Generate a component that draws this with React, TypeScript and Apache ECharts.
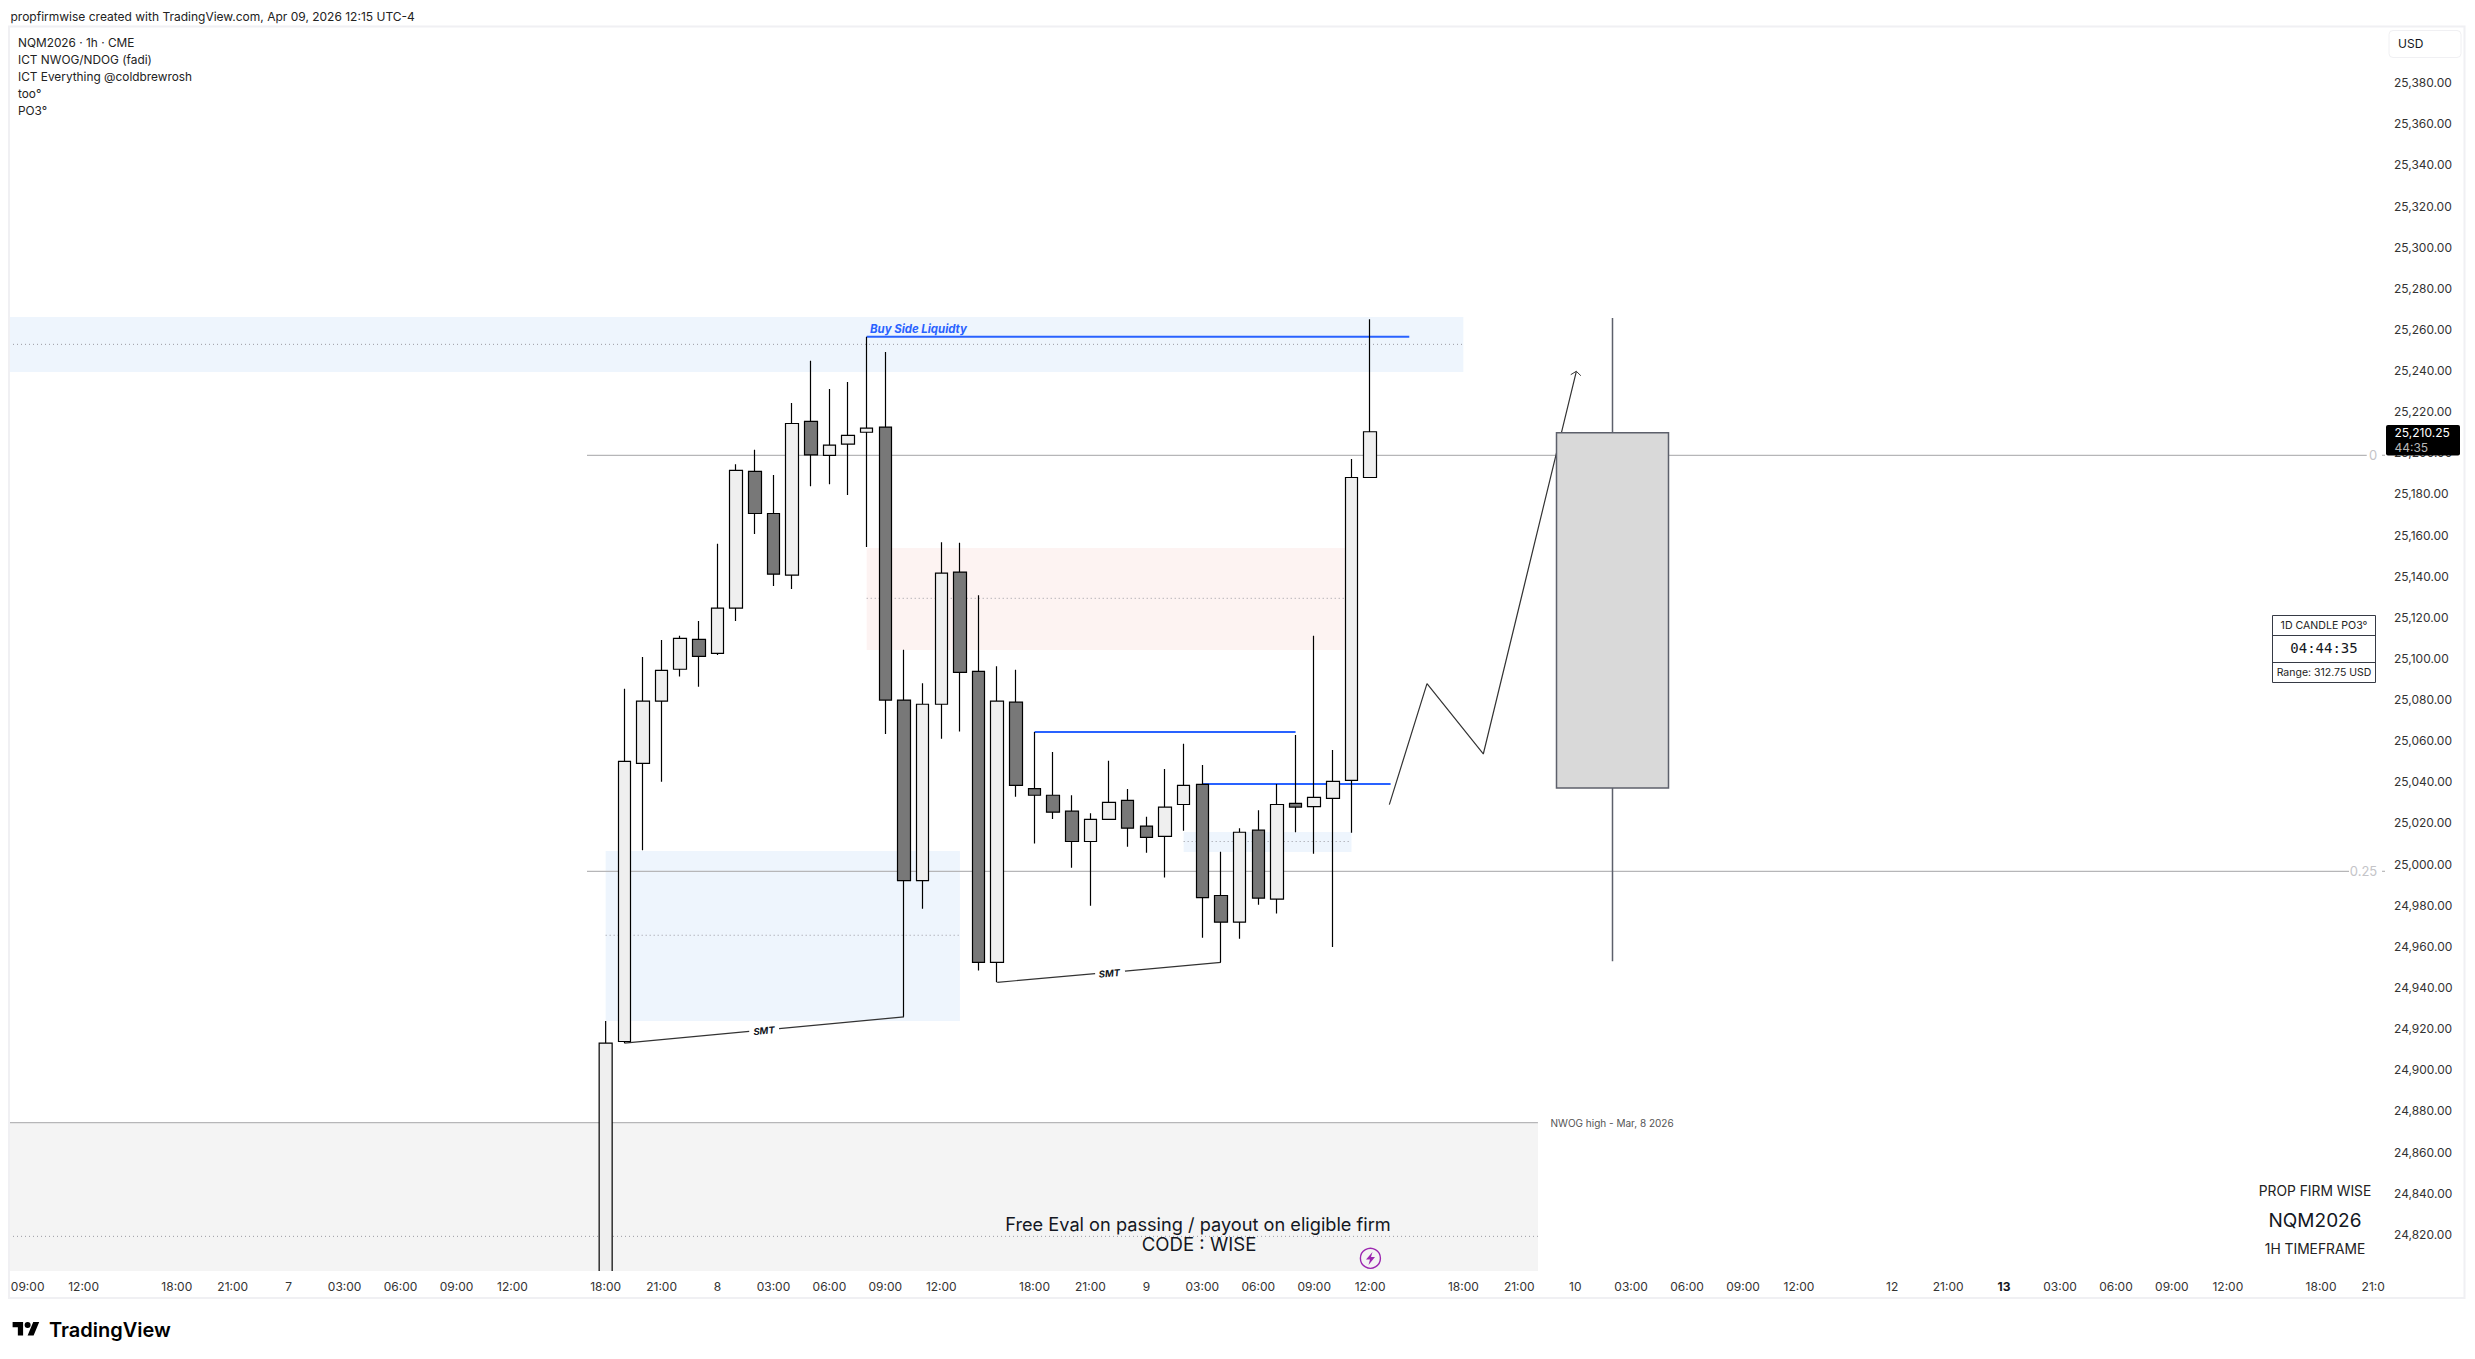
import React, { useEffect, useRef } from "react";
import * as echarts from "echarts";

// hourly candles, first one sits on bar 32 of the time scale
const firstBar = 32;
const opens = [24760, 24913.75, 25049, 25079.25, 25094.75, 25109.25, 25102.5, 25124.5, 25191, 25170.5, 25140.5, 25215.25, 25198.75, 25204.25, 25210, 25212.5, 25079.75, 24992, 25077.75, 25142, 25093.75, 24952.25, 25078.75, 25036.75, 25033.5, 25025.75, 25011, 25021.75, 25031, 25018.5, 25013.5, 25029, 25038.75, 24984.75, 24971.75, 25016.5, 24983, 25029.5, 25028, 25032, 25040.75, 25188];
const closes = [24913, 25050, 25079.25, 25094.25, 25109.75, 25101, 25124.5, 25191.5, 25170.5, 25141, 25214.25, 25199, 25203.75, 25208.5, 25212, 25079.75, 24992, 25077.75, 25141.5, 25093.25, 24952.25, 25079.25, 25038.25, 25033.5, 25025.25, 25011, 25021.75, 25030, 25017.5, 25013, 25027.75, 25038.25, 24983.75, 24971.75, 25015.5, 24983.5, 25029, 25027.75, 25032.5, 25040.25, 25188, 25210.25];
const lows = [24750, 24913, 25006.75, 25040, 25091.25, 25086.25, 25101.75, 25118.25, 25160.5, 25135.25, 25133.75, 25183.75, 25184.75, 25179.5, 25154.25, 25063.25, 24925.75, 24978.25, 25061, 25064.5, 24948.25, 24942.5, 25032.75, 25010, 25022, 24998.25, 24979.75, 25021.75, 25008.5, 25005.5, 24993.5, 25016.25, 24964.25, 24952.25, 24963.75, 24980.25, 24976, 25015.5, 25005, 24959.75, 25015.25, 25188];
const highs = [24923.75, 25085.25, 25100.75, 25109, 25111, 25118.25, 25155.75, 25194.5, 25201.5, 25189.25, 25224.25, 25244.75, 25231, 25234.5, 25256.5, 25249, 25104.25, 25088, 25156.5, 25156.25, 25130.75, 25096.25, 25094.5, 25064.25, 25054.5, 25033.5, 25024.75, 25050.25, 25036.5, 25023, 25046.25, 25058.5, 25048.25, 25006, 25017.5, 25026.25, 25039, 25062.75, 25111, 25055.5, 25197, 25265];

// the 1D candle drawn in the future area: bar, open, close, low, high
const dayCandle = [86, 25037, 25209.75, 24952.75, 25265.5];

// time axis
const timeBars = [1, 4, 9, 12, 15, 18, 21, 24, 27, 32, 35, 38, 41, 44, 47, 50, 55, 58, 61, 64, 67, 70, 73, 78, 81, 84, 87, 90, 93, 96, 101, 104, 107, 110, 113, 116, 119, 124, 127];
const timeLabels = ["09:00", "12:00", "18:00", "21:00", "7", "03:00", "06:00", "09:00", "12:00", "18:00", "21:00", "8", "03:00", "06:00", "09:00", "12:00", "18:00", "21:00", "9", "03:00", "06:00", "09:00", "12:00", "18:00", "21:00", "10", "03:00", "06:00", "09:00", "12:00", "12", "21:00", "13", "03:00", "06:00", "09:00", "12:00", "18:00", "21:00"];

// price axis
const priceTicks = [24820, 24840, 24860, 24880, 24900, 24920, 24940, 24960, 24980, 25000, 25020, 25040, 25060, 25080, 25100, 25120, 25140, 25160, 25180, 25200, 25220, 25240, 25260, 25280, 25300, 25320, 25340, 25360, 25380];

// zones: bar from, bar to, price top, price bottom
const blueZones = [
  [0, 78, 25266, 25239.25],
  [32, 51, 25006.4, 24923.7],
  [63, 72, 25015.6, 25005.9],
];
const redZones = [[46, 72, 25153.75, 25104.1]];
const grayZones = [[0, 82, 24874.3, 24763.7]];

const dottedLines = [
  [[0, 25252.75], [78, 25252.75]],
  [[46, 25129.25], [72, 25129.25]],
  [[32, 24965.4], [51, 24965.4]],
  [[63, 25011], [72, 25011]],
  [[0, 24819], [82, 24819]],
];
const grayLines = [
  [[31, 25198.8], [126.45, 25198.8]],
  [[127.27, 25198.8], [127.43, 25198.8]],
  [[31, 24996.5], [125.5, 24996.5]],
  [[127.27, 24996.5], [127.43, 24996.5]],
  [[0, 24874.3], [82, 24874.3]],
];
const blueLines = [
  [[46, 25256.5], [75.1, 25256.5]],
  [[55, 25064.25], [69, 25064.25]],
  [[64, 25039], [74.1, 25039]],
];
const smtLines = [
  [[33, 24913], [39.7, 24918.7]],
  [[41.3, 24920], [48, 24925.75]],
  [[53, 24942.5], [58.25, 24946.75]],
  [[59.85, 24948], [65, 24952.25]],
];
const forecastPath = [[74.03, 25028.9], [76.05, 25087.8], [79.07, 25053.55], [84.06, 25239.65]];
const arrowHead = [[83.76, 25238], [84.06, 25239.65], [84.3, 25237.5]];

const legendLines = ["NQM2026 · 1h · CME", "ICT NWOG/NDOG (fadi)", "ICT Everything @coldbrewrosh", "too°", "PO3°"];

const FONT = "Inter, Roboto, sans-serif";
const candles = opens.map((o, i) => [firstBar + i, o, closes[i], lows[i], highs[i]]);

echarts.graphic.registerShape(
  "tvLogo",
  echarts.graphic.extendPath(
    "M14 22H7V11H0V4h14v18zM28 22h-8l7.5-18h8L28 22zM24 8a4 4 0 1 1-8 0a4 4 0 1 1 8 0z",
    {}
  )
);

const lineSeries = (name: string, points: number[][], color: string, width: number, type: any = "solid", z = 2) => ({
  name,
  type: "line",
  data: points,
  showSymbol: false,
  silent: true,
  z,
  lineStyle: { color, width, type },
});

const zoneSeries = (name: string, zones: number[][], color: string) => ({
  name,
  type: "custom",
  silent: true,
  z: 1,
  clip: true,
  data: zones,
  encode: { x: [0, 1], y: [2, 3] },
  renderItem: (_: any, api: any) => {
    const a = api.coord([api.value(0), api.value(2)]);
    const b = api.coord([api.value(1), api.value(3)]);
    return { type: "rect", shape: { x: a[0], y: a[1], width: b[0] - a[0], height: b[1] - a[1] }, style: { fill: color } };
  },
});

const txt = (text: string, x: number, y: number, fontSize: number, fill: string, extra: any = {}) => ({
  type: "text",
  z: 100,
  x,
  y,
  style: { text, fontSize, fill, fontFamily: FONT, verticalAlign: "middle", align: "left", ...extra },
});

const box = (x: number, y: number, width: number, height: number, style: any, r = 0) => ({
  type: "rect",
  z: 100,
  shape: { x, y, width, height, r },
  style,
});

const App: React.FC = () => {
  const chartRef = useRef<HTMLDivElement>(null);

  useEffect(() => {
    document.body.style.margin = "0";
    const chart = echarts.init(chartRef.current!, null, { renderer: "svg" });

    const timeLookup: Record<number, string> = {};
    timeBars.forEach((b, i) => (timeLookup[b] = timeLabels[i]));

    const series: any[] = [
      zoneSeries("gray zone", grayZones, "#f4f4f4"),
      zoneSeries("blue zones", blueZones, "#eef5fd"),
      zoneSeries("red zones", redZones, "#fdf3f2"),
      ...dottedLines.map((p, i) => lineSeries("mid " + i, p, "#9a9aa2", 1, [1, 3])),
      ...grayLines.map((p, i) => lineSeries("level " + i, p, "#b6b6b8", 1.2)),
      ...blueLines.map((p, i) => lineSeries("liquidity " + i, p, "#2962ff", 2)),
      ...smtLines.map((p, i) => lineSeries("smt " + i, p, "#333333", 1.2)),
      lineSeries("forecast", forecastPath, "#333333", 1.2),
      lineSeries("arrow", arrowHead, "#333333", 1),
      {
        // the first candle runs off the bottom of the pane, the candlestick series does not clip it
        name: "NQM2026 open",
        type: "custom",
        silent: true,
        clip: true,
        z: 3,
        data: candles.slice(0, 1),
        encode: { x: 0, y: [1, 2, 3, 4] },
        renderItem: (_: any, api: any) => {
          const open = api.coord([api.value(0), api.value(1)]);
          const close = api.coord([api.value(0), api.value(2)]);
          const high = api.coord([api.value(0), api.value(4)]);
          return {
            type: "group",
            children: [
              { type: "line", shape: { x1: close[0], y1: high[1], x2: close[0], y2: close[1] }, style: { stroke: "#000000", lineWidth: 1.2 } },
              {
                type: "rect",
                shape: { x: close[0] - 6.5, y: close[1], width: 13, height: open[1] - close[1] },
                style: { fill: "#efefef", stroke: "#000000", lineWidth: 1.2 },
              },
            ],
          };
        },
      },
      {
        name: "NQM2026",
        type: "candlestick",
        data: candles.slice(1),
        barWidth: 13,
        z: 3,
        silent: true,
        itemStyle: {
          color: "#efefef",
          color0: "#787878",
          borderColor: "#000000",
          borderColor0: "#000000",
          borderColorDoji: "#000000",
          borderWidth: 1.2,
        },
      },
      {
        name: "1D candle",
        type: "candlestick",
        data: [dayCandle],
        barWidth: 112.5,
        z: 3,
        silent: true,
        itemStyle: {
          color: "#d9d9d9",
          color0: "#d9d9d9",
          borderColor: "#5d606b",
          borderColor0: "#5d606b",
          borderWidth: 1.5,
        },
      },
    ];

    const overlay: any[] = [
      box(9, 26.5, 2455.5, 1271.5, { fill: "none", stroke: "#f0f0f3", lineWidth: 2 }),
      // hides the part of the last time label that runs past the pane
      box(2385, 1274, 78, 22, { fill: "#ffffff" }),
      txt("propfirmwise created with TradingView.com, Apr 09, 2026 12:15 UTC-4", 10.5, 16, 12, "#222222"),
      ...legendLines.map((line, i) => txt(line, 18, [43, 59.5, 76.7, 94, 111][i], 11.85, "#222222")),
      box(2389, 30.5, 72, 27, { fill: "#ffffff", stroke: "#f0f0f3", lineWidth: 1 }, 4),
      txt("USD", 2398, 43.5, 12, "#131722"),
      box(2386, 425, 74, 30.5, { fill: "#000000" }, 2),
      txt("25,210.25", 2394.5, 432.5, 12, "#ffffff"),
      txt("44:35", 2394.5, 447, 12, "#b8b8b8"),
      txt("0", 2373, 455.3, 13, "#c4c4c8", { align: "center" }),
      txt("0.25", 2363.5, 871.3, 13, "#c4c4c8", { align: "center" }),
      txt("Buy Side Liquidty", 870, 329, 11.4, "#2962ff", { fontWeight: "bold", fontStyle: "italic" }),
      {
        ...txt("SMT", 764, 1030.7, 9.5, "#131722", { align: "center", fontWeight: "bold", fontStyle: "italic" }),
        rotation: 0.094,
      },
      {
        ...txt("SMT", 1109.3, 973.3, 9.5, "#131722", { align: "center", fontWeight: "bold", fontStyle: "italic" }),
        rotation: 0.089,
      },
      txt("NWOG high - Mar, 8 2026", 1550.5, 1122.7, 10, "#555555"),
      box(2272.5, 615.5, 103, 67, { fill: "#ffffff", stroke: "#363a45", lineWidth: 1 }),
      { type: "line", z: 100, shape: { x1: 2272.5, y1: 635.5, x2: 2375.5, y2: 635.5 }, style: { stroke: "#363a45", lineWidth: 1 } },
      { type: "line", z: 100, shape: { x1: 2272.5, y1: 662.5, x2: 2375.5, y2: 662.5 }, style: { stroke: "#363a45", lineWidth: 1 } },
      txt("1D CANDLE PO3°", 2324, 625.7, 10.6, "#222222", { align: "center" }),
      txt("04:44:35", 2324, 648.3, 14, "#131722", { align: "center", fontFamily: "DejaVu Sans Mono" }),
      txt("Range: 312.75 USD", 2324, 672.5, 10.5, "#222222", { align: "center" }),
      txt("Free Eval on passing / payout on eligible firm", 1198, 1224.2, 18.2, "#131722", { align: "center" }),
      txt("CODE : WISE", 1199, 1244.3, 18.6, "#131722", { align: "center" }),
      txt("PROP FIRM WISE", 2315, 1191, 13.8, "#222222", { align: "center" }),
      txt("NQM2026", 2315, 1220, 19, "#131722", { align: "center" }),
      txt("1H TIMEFRAME", 2315, 1249, 13.8, "#222222", { align: "center" }),
      { type: "circle", z: 100, shape: { cx: 1370.4, cy: 1258.3, r: 10 }, style: { fill: "none", stroke: "#9c27b0", lineWidth: 1.4 } },
      {
        type: "polygon",
        z: 100,
        shape: { points: [[1372.5, 1252], [1366, 1259.5], [1370, 1259.5], [1368.5, 1265], [1375, 1257], [1371, 1257]] },
        style: { fill: "#9c27b0" },
      },
      { type: "tvLogo", z: 100, x: 12.6, y: 1319, scaleX: 0.75, scaleY: 0.75, style: { fill: "#000000" } },
      txt("TradingView", 49, 1330, 20, "#000000", { fontWeight: 600 }),
    ];

    chart.setOption({
      animation: false,
      backgroundColor: "#ffffff",
      grid: { left: 9, right: 90, top: 26, bottom: 88, containLabel: false },
      xAxis: {
        type: "value",
        min: 0,
        max: 127.43,
        splitLine: { show: false },
        axisLine: { show: false },
        axisTick: { show: false },
        axisLabel: {
          customValues: timeBars,
          margin: 9,
          fontSize: 12,
          color: "#333333",
          fontFamily: FONT,
          formatter: (v: number) => {
            const label = timeLookup[v];
            return label === "13" ? "{b|13}" : label;
          },
          rich: { b: { fontWeight: "bold", fontSize: 12, color: "#131722", fontFamily: FONT } },
        },
      },
      yAxis: {
        type: "value",
        position: "right",
        min: 24802.15,
        max: 25407.55,
        splitLine: { show: false },
        axisLine: { show: false },
        axisTick: { show: false },
        axisLabel: {
          customValues: priceTicks,
          margin: 9,
          fontSize: 12,
          color: "#333333",
          fontFamily: FONT,
          formatter: (v: number) => v.toLocaleString("en-US", { minimumFractionDigits: 2 }),
        },
      },
      series,
      graphic: { elements: overlay },
    });

    return () => {
      chart.dispose();
    };
  }, []);

  return <div ref={chartRef} style={{ position: "absolute", left: 0, top: 0, width: 2475, height: 1359 }} />;
};

export default App;
